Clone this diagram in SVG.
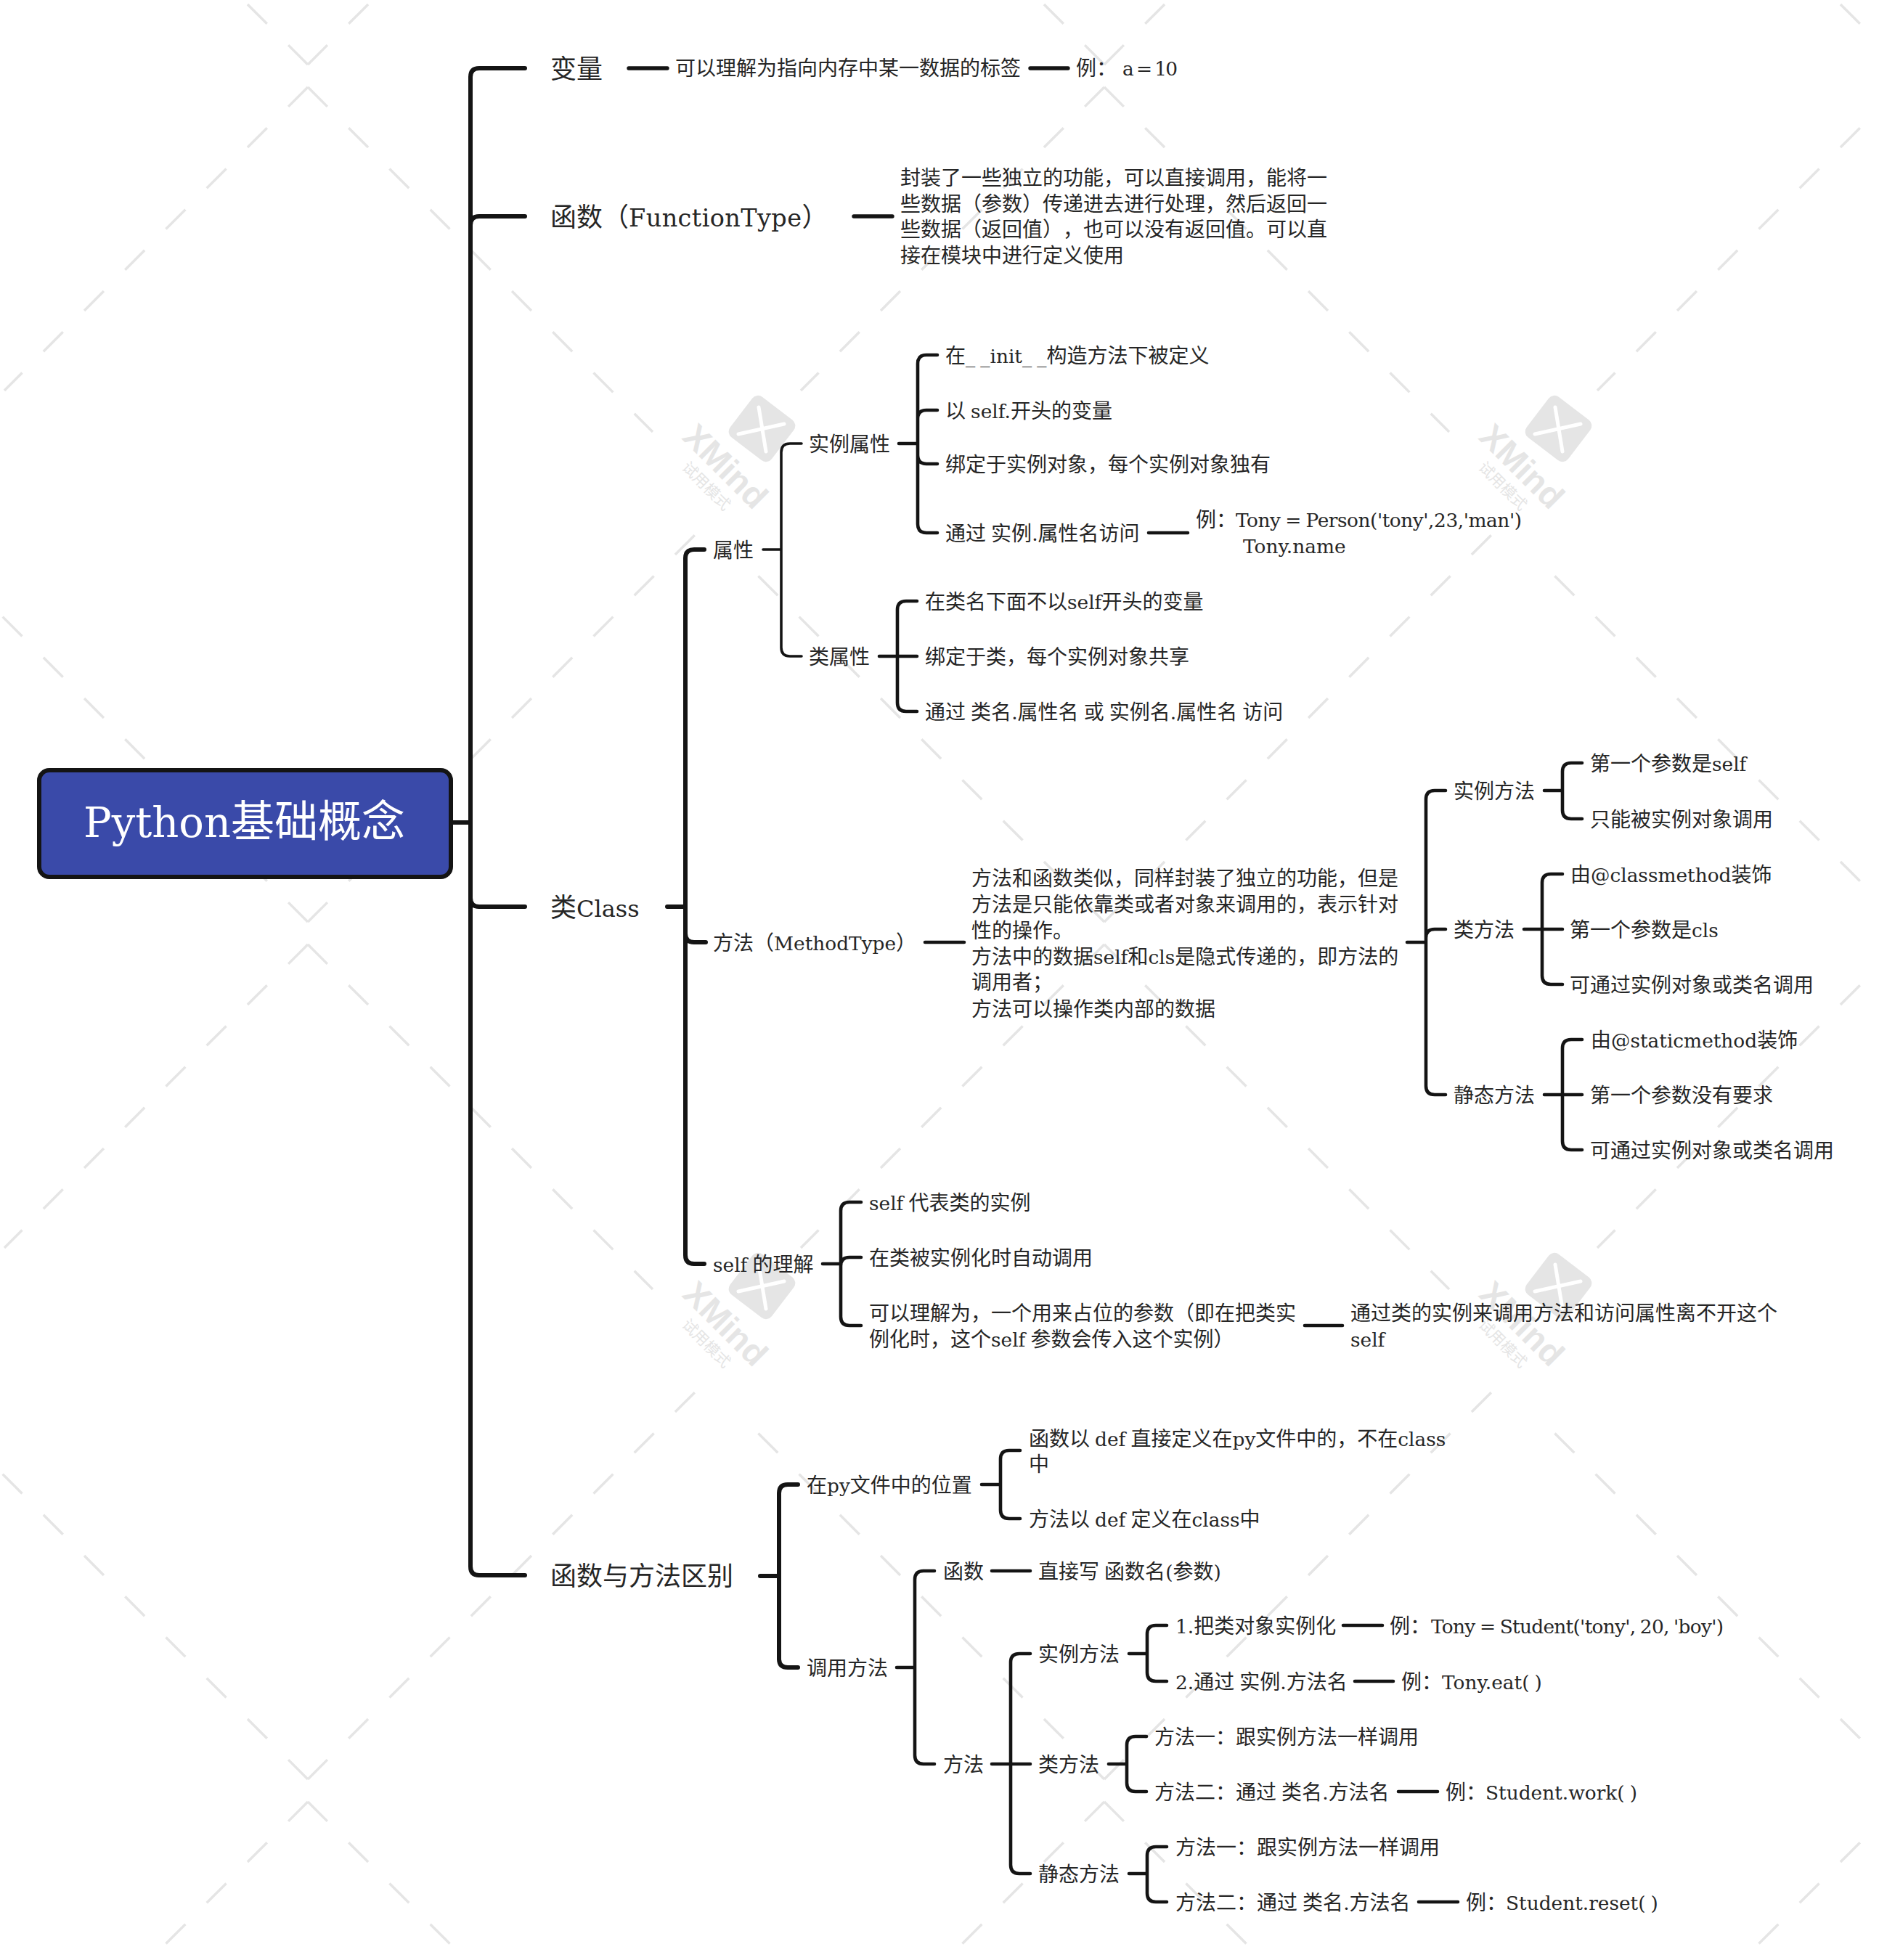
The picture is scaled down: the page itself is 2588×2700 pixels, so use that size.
<svg xmlns="http://www.w3.org/2000/svg" xmlns:xlink="http://www.w3.org/1999/xlink" width="2588" height="2700" viewBox="0 0 2588 2700">
<style>
text{font-family:"Noto Sans CJK SC","Noto Sans",sans-serif;fill:#262626;font-size:28px;white-space:pre;text-spacing-trim:space-all;font-feature-settings:"chws" 0}
g[id^="n-"]{transform:translateY(1px)}
.h{font-size:36px}
.r{font-size:60px;fill:#fff}
.l{font-family:"DejaVu Serif",serif;font-size:26.4px;word-spacing:-1.3px}
.h .l{font-size:33.5px;letter-spacing:.4px}
.h .k{font-size:32px;letter-spacing:0}
.r .l{font-size:57.5px}
.rb{fill:#3a4aa9;stroke:#141414;stroke-width:6}
#connectors path{fill:none;stroke:#141414;stroke-linecap:round;stroke-linejoin:round}
.a{stroke-width:6}.b{stroke-width:4.6}.c{stroke-width:3.6}.d{stroke-width:5.4}
.ray{fill:none;stroke:#e5e5e5;stroke-width:3.5;stroke-dasharray:38 41.5}
.wt{fill:#e5e5e5;font-family:"Liberation Sans",sans-serif;font-weight:700;font-size:47px}
.wc{fill:#e5e5e5;font-size:21px}
.wx{fill:none;stroke:#fff;stroke-width:5;stroke-linecap:round}
</style>
<defs>
<g id="wm">
<path class="ray" d="M424,120L899,595"/>
<path class="ray" d="M1521,120L1103,538"/>
<path class="ray" d="M424,1270L958,736"/>
<path class="ray" d="M1521,1270L1043,792"/>
<rect x="1013.500" y="555.500" width="72" height="70" rx="10" transform="rotate(37.4 1049.500 590.500)" fill="#e5e5e5"/>
<path class="wx" d="M1045,561L1055,622M1017,598L1080,584"/>
<text class="wt" transform="translate(938,604) rotate(45)">XMind</text>
<text class="wc" transform="translate(938,645) rotate(45)">试用模式</text>
</g>
</defs>
<rect width="2588" height="2700" fill="#fff"/>
<g id="watermark">
<use href="#wm" x="-1097" y="-1181"/><use href="#wm" y="-1181"/><use href="#wm" x="1097" y="-1181"/><use href="#wm" x="2194" y="-1181"/>
<use href="#wm" x="-1097"/><use href="#wm"/><use href="#wm" x="1097"/><use href="#wm" x="2194"/>
<use href="#wm" x="-1097" y="1181"/><use href="#wm" y="1181"/><use href="#wm" x="1097" y="1181"/><use href="#wm" x="2194" y="1181"/>
<use href="#wm" x="-1097" y="2362"/><use href="#wm" y="2362"/><use href="#wm" x="1097" y="2362"/><use href="#wm" x="2194" y="2362"/>
</g>
<g id="connectors">
<path class="a" d="M624,1133H648M723,94H660Q648,94 648,106V2158Q648,2170 660,2170H723M648,310Q648,298 660,298H723M648,1237Q648,1249 660,1249H723"/>
<path class="d" d="M866,94H919M1419,94H1471M1176,298H1229"/>
<path class="a" d="M919,1249H944M970,757H956Q944,757 944,769V1729Q944,1741 956,1741H970M944,1286Q944,1298 956,1298H972"/>
<path class="c" d="M1051,757H1076M1104,611H1088Q1076,611 1076,623V892Q1076,904 1088,904H1104"/>
<path class="b" d="M1238,611H1264M1291,489H1276Q1264,489 1264,501V722Q1264,734 1276,734H1291M1264,577Q1264,565 1276,565H1291M1264,627Q1264,639 1276,639H1291M1582,734H1636"/>
<path class="b" d="M1211,904H1263M1263,828H1248Q1236,828 1236,840V968Q1236,980 1248,980H1263"/>
<path class="b" d="M1274,1298H1328M1938,1298H1964M1991,1089H1976Q1964,1089 1964,1101V1496Q1964,1508 1976,1508H1991M1964,1292Q1964,1280 1976,1280H1991"/>
<path class="b" d="M2127,1089H2152M2179,1051H2164Q2152,1051 2152,1063V1116Q2152,1128 2164,1128H2179"/>
<path class="b" d="M2099,1280H2152M2152,1204H2136Q2124,1204 2124,1216V1344Q2124,1356 2136,1356H2152"/>
<path class="b" d="M2127,1508H2179M2179,1432H2164Q2152,1432 2152,1444V1572Q2152,1584 2164,1584H2179"/>
<path class="b" d="M1133,1741H1158M1186,1656H1170Q1158,1656 1158,1668V1814Q1158,1826 1170,1826H1186M1158,1744Q1158,1732 1170,1732H1186M1797,1826H1849"/>
<path class="a" d="M1047,2171H1073M1099,2045H1085Q1073,2045 1073,2057V2285Q1073,2297 1085,2297H1099"/>
<path class="b" d="M1352,2045H1378M1405,1998H1390Q1378,1998 1378,2010V2080Q1378,2092 1390,2092H1405"/>
<path class="b" d="M1235,2297H1260M1287,2164H1272Q1260,2164 1260,2176V2418Q1260,2430 1272,2430H1287M1366,2164H1419"/>
<path class="b" d="M1366,2430H1419M1419,2278H1404Q1392,2278 1392,2290V2569Q1392,2581 1404,2581H1419"/>
<path class="b" d="M1555,2278H1580M1607,2239H1592Q1580,2239 1580,2251V2304Q1580,2316 1592,2316H1607M1850,2239H1904M1866,2316H1919"/>
<path class="b" d="M1527,2430H1552M1579,2392H1564Q1552,2392 1552,2404V2456Q1552,2468 1564,2468H1579M1926,2468H1980"/>
<path class="b" d="M1555,2581H1580M1607,2544H1592Q1580,2544 1580,2556V2608Q1580,2620 1592,2620H1607M1954,2620H2008"/>
</g>
<g id="root"><rect class="rb" x="54" y="1061" width="567" height="147" rx="14"/><text class="r" x="115" y="1153"><tspan class="l">Python</tspan>基础概念</text></g>
<g id="n-var"><text class="h" x="758" y="107">变量</text></g>
<g id="n-var-a"><text x="930" y="103">可以理解为指向内存中某一数据的标签</text></g>
<g id="n-var-b"><text x="1482" y="103">例：</text><text class="l" x="1546" y="103" textLength="76">a = 10</text></g>
<g id="n-func"><text class="h" x="758" y="311">函数（<tspan class="l">FunctionType</tspan>）</text></g>
<g id="n-func-a"><text x="1240" y="254">封装了一些独立的功能，可以直接调用，能将一</text><text x="1240" y="290">些数据（参数）传递进去进行处理，然后返回一</text><text x="1240" y="325">些数据（返回值），也可以没有返回值。可以直</text><text x="1240" y="361">接在模块中进行定义使用</text></g>
<g id="n-class"><text class="h" x="758" y="1262">类<tspan class="l k">Class</tspan></text></g>
<g id="n-attr"><text x="982" y="767">属性</text></g>
<g id="n-inst"><text x="1114" y="621">实例属性</text></g>
<g id="n-inst-1"><text x="1302" y="499">在<tspan class="l">_ _init_ _</tspan>构造方法下被定义</text></g>
<g id="n-inst-2"><text x="1302" y="575">以<tspan class="l"> self.</tspan>开头的变量</text></g>
<g id="n-inst-3"><text x="1302" y="649">绑定于实例对象，每个实例对象独有</text></g>
<g id="n-inst-4"><text x="1302" y="744">通过<tspan class="l"> </tspan>实例<tspan class="l">.</tspan>属性名访问</text></g>
<g id="n-inst-4a"><text x="1647" y="725">例：</text><text class="l" x="1702" y="725" textLength="394">Tony = Person('tony',23,'man')</text><text class="l" x="1712" y="761">Tony.name</text></g>
<g id="n-cattr"><text x="1114" y="914">类属性</text></g>
<g id="n-cattr-1"><text x="1274" y="838">在类名下面不以<tspan class="l">self</tspan>开头的变量</text></g>
<g id="n-cattr-2"><text x="1274" y="914">绑定于类，每个实例对象共享</text></g>
<g id="n-cattr-3"><text x="1274" y="990">通过<tspan class="l"> </tspan>类名<tspan class="l">.</tspan>属性名<tspan class="l"> </tspan>或<tspan class="l"> </tspan>实例名<tspan class="l">.</tspan>属性名<tspan class="l"> </tspan>访问</text></g>
<g id="n-meth"><text x="982" y="1308">方法（<tspan class="l">MethodType</tspan>）</text></g>
<g id="n-meth-a"><text x="1338" y="1219">方法和函数类似，同样封装了独立的功能，但是</text><text x="1338" y="1255">方法是只能依靠类或者对象来调用的，表示针对</text><text x="1338" y="1291">性的操作。</text><text x="1338" y="1327">方法中的数据<tspan class="l">self</tspan>和<tspan class="l">cls</tspan>是隐式传递的，即方法的</text><text x="1338" y="1362">调用者；</text><text x="1338" y="1399">方法可以操作类内部的数据</text></g>
<g id="n-im"><text x="2002" y="1099">实例方法</text></g>
<g id="n-im-1"><text x="2190" y="1061">第一个参数是<tspan class="l">self</tspan></text></g>
<g id="n-im-2"><text x="2190" y="1138">只能被实例对象调用</text></g>
<g id="n-cm"><text x="2002" y="1290">类方法</text></g>
<g id="n-cm-1"><text x="2163" y="1214">由<tspan class="l">@classmethod</tspan>装饰</text></g>
<g id="n-cm-2"><text x="2162" y="1290">第一个参数是<tspan class="l">cls</tspan></text></g>
<g id="n-cm-3"><text x="2162" y="1366">可通过实例对象或类名调用</text></g>
<g id="n-sm"><text x="2002" y="1518">静态方法</text></g>
<g id="n-sm-1"><text x="2191" y="1442">由<tspan class="l">@staticmethod</tspan>装饰</text></g>
<g id="n-sm-2"><text x="2190" y="1518">第一个参数没有要求</text></g>
<g id="n-sm-3"><text x="2190" y="1594">可通过实例对象或类名调用</text></g>
<g id="n-self"><text x="982" y="1751"><tspan class="l">self </tspan>的理解</text></g>
<g id="n-self-1"><text x="1197" y="1666"><tspan class="l">self </tspan>代表类的实例</text></g>
<g id="n-self-2"><text x="1197" y="1742">在类被实例化时自动调用</text></g>
<g id="n-self-3"><text x="1197" y="1818">可以理解为，一个用来占位的参数（即在把类实</text><text x="1197" y="1854">例化时，这个<tspan class="l">self </tspan>参数会传入这个实例）</text></g>
<g id="n-self-3a"><text x="1860" y="1818">通过类的实例来调用方法和访问属性离不开这个</text><text class="l" x="1860" y="1854">self</text></g>
<g id="n-diff"><text class="h" x="758" y="2183">函数与方法区别</text></g>
<g id="n-pos"><text x="1111" y="2055">在<tspan class="l">py</tspan>文件中的位置</text></g>
<g id="n-pos-1"><text x="1417" y="1991">函数以<tspan class="l"> def </tspan>直接定义在<tspan class="l">py</tspan>文件中的，不在<tspan class="l">class</tspan></text><text x="1417" y="2026">中</text></g>
<g id="n-pos-2"><text x="1417" y="2102">方法以<tspan class="l"> def </tspan>定义在<tspan class="l">class</tspan>中</text></g>
<g id="n-call"><text x="1111" y="2307">调用方法</text></g>
<g id="n-call-f"><text x="1299" y="2174">函数</text></g>
<g id="n-call-f1"><text x="1430" y="2174">直接写<tspan class="l"> </tspan>函数名<tspan class="l">(</tspan>参数<tspan class="l">)</tspan></text></g>
<g id="n-call-m"><text x="1299" y="2440">方法</text></g>
<g id="n-c-im"><text x="1430" y="2288">实例方法</text></g>
<g id="n-c-im1"><text x="1619" y="2249"><tspan class="l">1.</tspan>把类对象实例化</text></g>
<g id="n-c-im1a"><text x="1914" y="2249">例：</text><text class="l" x="1971" y="2249" textLength="403">Tony = Student('tony', 20, 'boy')</text></g>
<g id="n-c-im2"><text x="1619" y="2326"><tspan class="l">2.</tspan>通过<tspan class="l"> </tspan>实例<tspan class="l">.</tspan>方法名</text></g>
<g id="n-c-im2a"><text x="1930" y="2326">例：</text><text class="l" x="1986" y="2326">Tony.eat( )</text></g>
<g id="n-c-cm"><text x="1430" y="2440">类方法</text></g>
<g id="n-c-cm1"><text x="1590" y="2402">方法一：跟实例方法一样调用</text></g>
<g id="n-c-cm2"><text x="1590" y="2478">方法二：通过<tspan class="l"> </tspan>类名<tspan class="l">.</tspan>方法名</text></g>
<g id="n-c-cm2a"><text x="1991" y="2478">例：</text><text class="l" x="2046" y="2478">Student.work( )</text></g>
<g id="n-c-sm"><text x="1430" y="2591">静态方法</text></g>
<g id="n-c-sm1"><text x="1619" y="2554">方法一：跟实例方法一样调用</text></g>
<g id="n-c-sm2"><text x="1619" y="2630">方法二：通过<tspan class="l"> </tspan>类名<tspan class="l">.</tspan>方法名</text></g>
<g id="n-c-sm2a"><text x="2019" y="2630">例：</text><text class="l" x="2074" y="2630">Student.reset( )</text></g>
</svg>
